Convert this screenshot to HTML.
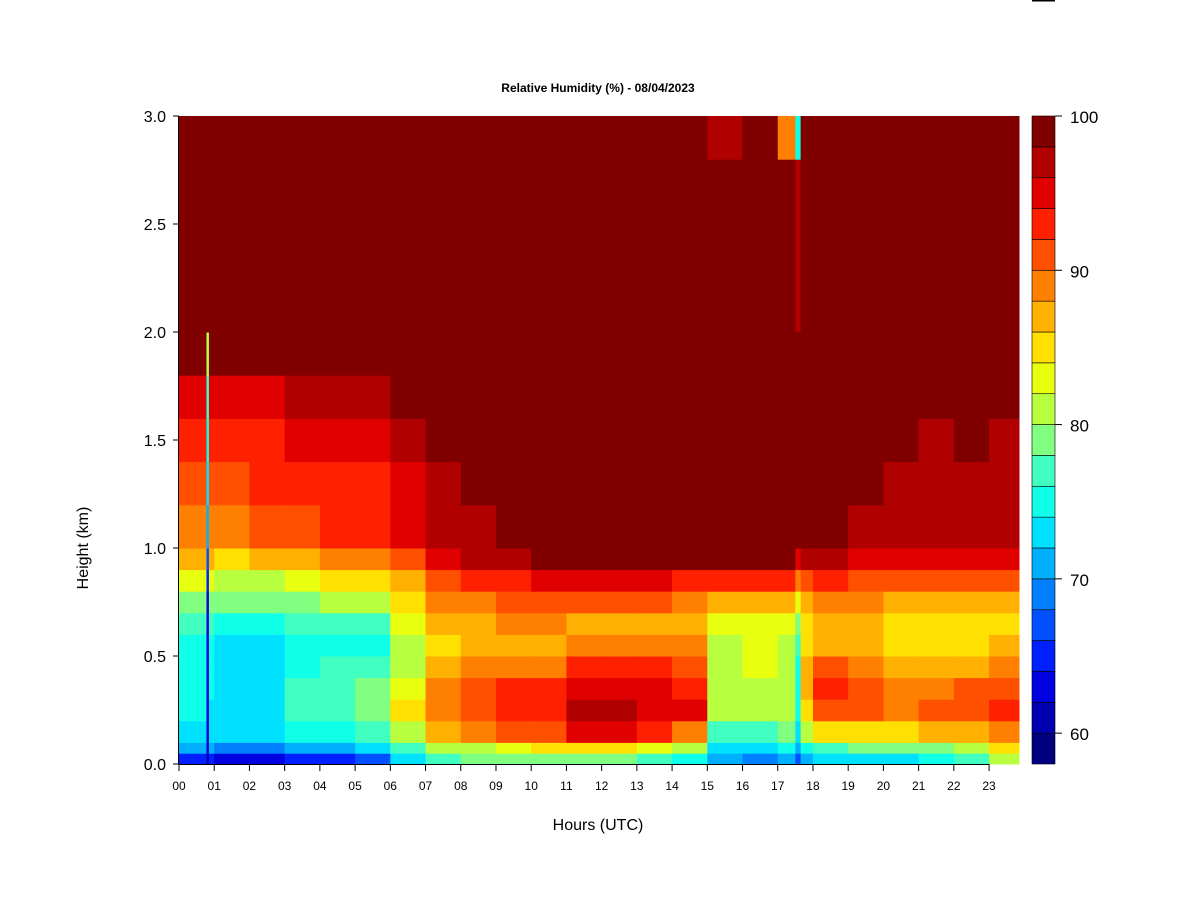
<!DOCTYPE html>
<html><head><meta charset="utf-8"><style>
body{margin:0;background:#fff;}
svg{display:block;font-family:"Liberation Sans",Arial,sans-serif;}
</style></head><body>
<svg id="chart" width="1200" height="900">
<line x1="1032" y1="0.5" x2="1055" y2="0.5" stroke="#000" stroke-width="2"/>
<text x="598" y="92" text-anchor="middle" font-size="12" font-weight="bold">Relative Humidity (%) - 08/04/2023</text>
<g id="cells"></g>
<g id="axes"></g>
<g id="cbar"></g>
<text x="598" y="830" text-anchor="middle" font-size="16">Hours (UTC)</text>
<text x="88" y="548" text-anchor="middle" font-size="16" transform="rotate(-90 88 548)">Height (km)</text>
</svg>
<script>
const colStarts = [0,0.78,0.85,1,2,3,4,5,6,7,8,9,10,11,12,13,14,15,16,17,17.5,17.65,18,19,20,21,22,23];
const dataEnd = 23.85;
const rowEdges = [0,0.05,0.1,0.2,0.3,0.4,0.5,0.6,0.7,0.8,0.9,1.0,1.2,1.4,1.6,1.8,2.0,2.8,3.0];
const rhValues = [
[64,70,72,74,74,74,74,76,78,82,86,88,90,92,94,98,100,100],
[60,62,62,62,62,62,62,62,62,64,66,70,72,74,76,80,99,99],
[64,70,72,72,74,74,74,76,78,82,86,88,90,92,94,98,100,100],
[62,68,72,72,72,72,72,74,78,80,84,88,90,92,94,98,100,100],
[62,68,72,72,72,72,72,74,78,80,86,90,92,92,94,98,100,100],
[64,70,74,76,76,74,74,76,78,82,86,90,92,94,96,98,100,100],
[64,70,74,76,76,76,74,76,80,84,88,92,92,94,96,98,100,100],
[66,72,76,78,78,76,74,76,80,84,88,92,92,94,96,98,100,100],
[72,76,80,84,82,80,80,82,84,86,90,94,94,96,98,100,100,100],
[76,80,86,88,88,86,84,86,88,90,94,96,96,98,100,100,100,100],
[78,80,88,90,90,88,86,86,88,92,96,96,98,98,100,100,100,100],
[78,82,90,92,92,88,86,88,90,92,96,98,98,100,100,100,100,100],
[78,84,90,92,92,88,86,88,90,94,98,98,98,98,100,100,100,100],
[78,84,94,96,94,92,88,86,90,94,98,100,100,100,100,100,100,100],
[78,84,94,96,94,92,88,86,90,94,98,100,100,100,100,100,100,100],
[76,82,92,94,94,92,88,86,90,94,98,100,100,100,100,100,100,100],
[74,80,88,94,92,90,88,86,88,92,98,100,100,100,100,100,100,100],
[70,72,76,80,80,80,80,82,86,92,98,100,100,100,100,100,100,96],
[68,72,76,80,80,82,82,82,86,92,98,100,100,100,100,100,100,100],
[70,74,78,80,80,80,80,82,86,92,98,100,100,100,100,100,100,88],
[66,70,72,74,74,74,76,78,82,88,94,98,100,100,100,100,96,74],
[70,74,80,84,86,86,84,84,86,90,96,98,100,100,100,100,100,100],
[72,76,84,90,92,90,86,86,88,92,96,98,100,100,100,100,100,100],
[72,78,84,90,90,88,86,86,88,90,94,96,98,100,100,100,100,100],
[72,78,84,88,88,86,84,84,86,90,94,96,96,98,98,100,100,100],
[74,78,86,90,88,86,84,84,86,90,94,96,96,96,98,100,100,100],
[76,80,86,90,90,86,84,84,86,90,94,96,96,98,98,100,100,98],
[80,84,88,92,90,88,86,84,86,90,94,96,96,96,98,100,100,98]
];
const xTickLabels = ["00","01","02","03","04","05","06","07","08","09","10","11","12","13","14","15","16","17","18","19","20","21","22","23"];
const yTickValues = [0,0.5,1.0,1.5,2.0,2.5,3.0];
const cbarTickValues = [60,70,80,90,100];
const levelColors = ["#000080","#0000b0","#0000e0","#0020ff","#0050ff","#0080ff","#00b0ff","#00e0ff","#10ffe8","#40ffc0","#80ff80","#b8ff40","#e8ff10","#ffe000","#ffb000","#ff8000","#ff5000","#ff2000","#e00000","#b00000","#800000"];
const levelMin = 58, levelStep = 2;

const NS="http://www.w3.org/2000/svg";
const X0=179, X1=1019, Y0=764, Y1=116, hourPx=35.22;
const xs=h=>X0+h*hourPx;
const ys=k=>Y0-(k/3)*(Y0-Y1);
const cs=v=>Y0-(v-levelMin)/(100-levelMin)*(Y0-Y1);
function colorOf(v){let i=Math.floor((v-levelMin)/levelStep);i=Math.max(0,Math.min(levelColors.length-1,i));return levelColors[i];}
function mk(tag,attrs,parent){const e=document.createElementNS(NS,tag);for(const k in attrs)e.setAttribute(k,attrs[k]);parent.appendChild(e);return e;}

const cells=document.getElementById('cells');
rhValues.forEach((col,ci)=>{
  const xa=xs(colStarts[ci]), xb=xs(ci+1<colStarts.length?colStarts[ci+1]:dataEnd);
  col.forEach((v,ri)=>{
    const ya=ys(rowEdges[ri+1]), yb=ys(rowEdges[ri]);
    const r=mk('rect',{x:xa,y:ya,width:xb-xa+0.5,height:yb-ya+0.5,fill:colorOf(v)},cells);
    
    
  });
});

const axes=document.getElementById('axes');
const xl=mk('line',{x1:X0,y1:Y0+0.5,x2:xs(23)+0.5,y2:Y0+0.5,stroke:'#000'},axes);


xTickLabels.forEach((lab,i)=>{
  const x=xs(i);
  mk('line',{x1:x,y1:Y0,x2:x,y2:Y0+7,stroke:'#000'},axes);
  const t=mk('text',{x:x,y:Y0+26,'text-anchor':'middle','font-size':'12'},axes);
  t.textContent=lab;
  
  
});
const yl=mk('line',{x1:X0-0.5,y1:Y1,x2:X0-0.5,y2:Y0,stroke:'#000'},axes);


yTickValues.forEach(v=>{
  const y=ys(v);
  mk('line',{x1:X0-6,y1:y,x2:X0,y2:y,stroke:'#000'},axes);
  const t=mk('text',{x:X0-13,y:y+6,'text-anchor':'end','font-size':'16'},axes);
  t.textContent=v.toFixed(1);
  
  
});

const cbar=document.getElementById('cbar');
levelColors.forEach((c,i)=>{
  const va=levelMin+i*levelStep;
  const r=mk('rect',{x:1032,y:cs(va+levelStep),width:23,height:cs(va)-cs(va+levelStep),fill:c,stroke:'#000','stroke-width':'0.6'},cbar);
  
  
});
cbarTickValues.forEach(v=>{
  const y=cs(v);
  mk('line',{x1:1055,y1:y,x2:1062,y2:y,stroke:'#000'},cbar);
  const t=mk('text',{x:1070,y:y+7,'font-size':'17'},cbar);
  t.textContent=v;
  
  
});
</script>
</body></html>
